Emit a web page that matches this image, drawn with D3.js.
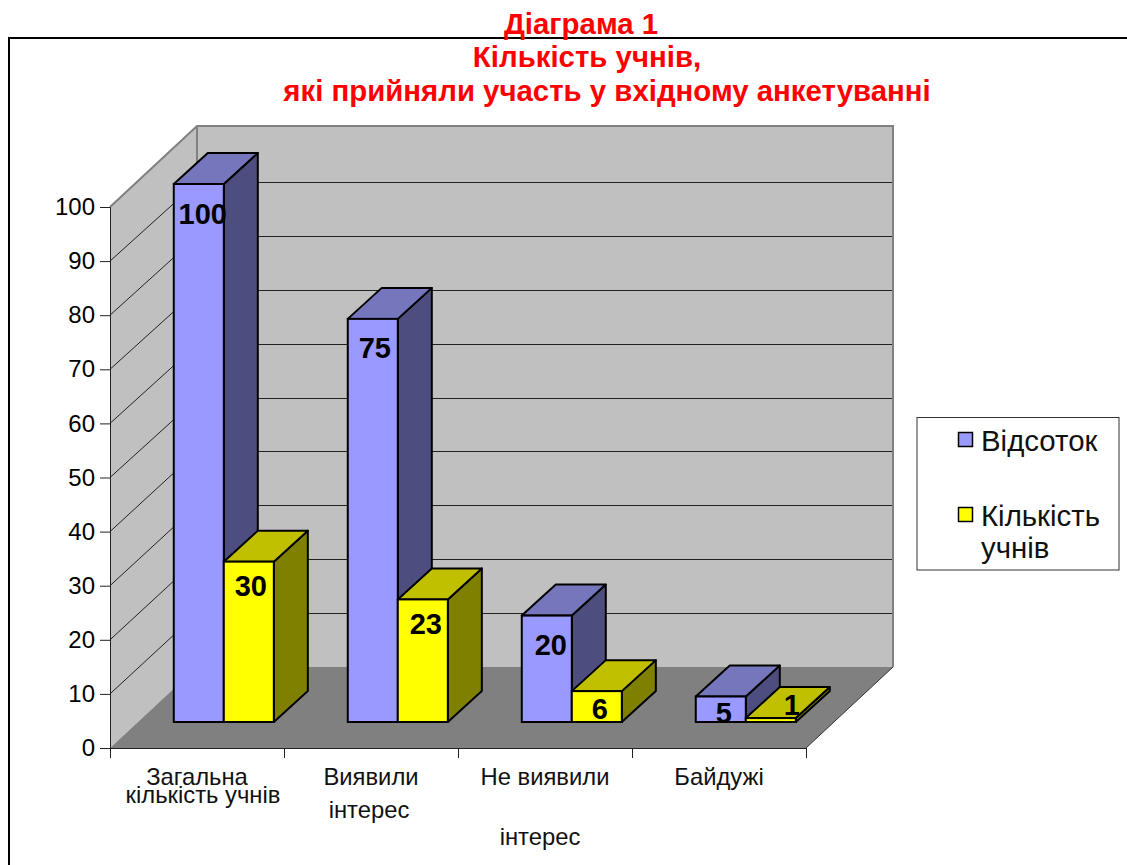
<html>
    <head>
        <meta charset="utf-8">
        <script src="https://d3js.org/d3.v7.min.js"></script>
        <style>
            body{ margin:0; background:white; }
            svg{ display:block; }
            text{ font-family:"Liberation Sans", Arial, sans-serif; }
        </style>
    </head>
    <body>
        <svg id="svg" width="1127" height="865"></svg>
        <script>
            var categories = ["Загальна кількість учнів", "Виявили інтерес", "Не виявили інтерес", "Байдужі"];
            var percent_values = [100, 75, 20, 5];
            var pupil_values = [30, 23, 6, 1];
            var y_ticks = [0, 10, 20, 30, 40, 50, 60, 70, 80, 90, 100];
            var series_names = ["Відсоток", "Кількість учнів"];
            var title_lines = ["Діаграма 1", "Кількість учнів,", "які прийняли участь у вхідному анкетуванні"];

            var svg = d3.select("svg");

            // the 3d box: front axes + how far the back wall is pushed
            var plot = {left:110, right:806, top:207, bottom:748};
            var depth = {x:87, y:-81};
            var bar_depth = {x:34, y:-31};

            var x = d3.scaleBand().domain(categories).range([plot.left, plot.right]).paddingInner(0.425).paddingOuter(0.2125);
            var x_edges = d3.scaleLinear().domain([0, categories.length]).range([plot.left, plot.right]);
            var y = d3.scaleLinear().domain([0, 100]).range([plot.bottom, plot.top]);
            // the back wall and the bar plane come out a little shorter than the front axis
            var y_wall = d3.scaleLinear().domain([0, 100]).range([667, 128]);
            var y_bar = d3.scaleLinear().domain([0, 100]).range([723.5, 184]);
            var bar_base = 722;
            var bar_shift = 26.8;
            var bar_w = x.bandwidth() / 2;

            function poly(points, fill, stroke, sw){
                return svg.append("polygon")
                    .attr("points", points.map(function(p){return p.join(",")}).join(" "))
                    .attr("fill", fill)
                    .attr("stroke", stroke || "none")
                    .attr("stroke-width", sw || 0)
                    .attr("stroke-linejoin", "round");
            }

            // outer frame, only top and left show in the picture
            svg.append("path").attr("d", "M1127,38H9V865").attr("fill", "none").attr("stroke", "black").attr("stroke-width", 2);

            // title
            var title_x = [581, 587, 607];
            var title_y = [34, 67, 101];
            title_lines.forEach(function(t, i){
                svg.append("text").attr("x", title_x[i]).attr("y", title_y[i])
                    .attr("text-anchor", "middle").attr("font-size", 29.4).attr("font-weight", "bold")
                    .attr("fill", "#ff0000").text(t);
            });

            // walls and floor
            var y0 = y(0), y100 = y(100);
            poly([[plot.left, y100], [plot.left + depth.x, y100 + depth.y], [plot.left + depth.x, y0 + depth.y], [plot.left, y0]], "#c0c0c0");
            poly([[plot.left + depth.x, y100 + depth.y], [plot.right + depth.x, y100 + depth.y], [plot.right + depth.x, y0 + depth.y], [plot.left + depth.x, y0 + depth.y]], "#c0c0c0");
            poly([[plot.left, y0], [plot.left + depth.x, y0 + depth.y], [plot.right + depth.x, y0 + depth.y], [plot.right, y0]], "#808080");

            // grid lines, side wall then back wall
            y_ticks.slice(1, -1).forEach(function(t){
                var wall = Math.round(y_wall(t)) + 0.5;
                svg.append("path")
                    .attr("d", "M" + plot.left + "," + y(t) + "L" + (plot.left + depth.x) + "," + wall + "H" + (plot.right + depth.x))
                    .attr("fill", "none").attr("stroke", "#222").attr("stroke-width", 1);
            });
            // wall edges
            svg.append("path")
                .attr("d", "M" + plot.left + "," + y100 + "L" + (plot.left + depth.x) + "," + (y100 + depth.y) + "H" + (plot.right + depth.x) + "V" + (y0 + depth.y))
                .attr("fill", "none").attr("stroke", "#808080").attr("stroke-width", 2);
            svg.append("line")
                .attr("x1", plot.left + depth.x).attr("y1", y100 + depth.y)
                .attr("x2", plot.left + depth.x).attr("y2", y_wall(90))
                .attr("stroke", "#808080").attr("stroke-width", 2);
            svg.append("line")
                .attr("x1", plot.right).attr("y1", y0)
                .attr("x2", plot.right + depth.x).attr("y2", y0 + depth.y)
                .attr("stroke", "#333").attr("stroke-width", 1);

            // axes
            var y_axis = d3.axisLeft(y).tickValues(y_ticks).tickSize(10).tickPadding(5);
            var y_g = svg.append("g").attr("transform", "translate(" + plot.left + ",0)").call(y_axis);
            y_g.selectAll("text").attr("font-size", 24).attr("fill", "#000").attr("font-family", null);
            y_g.selectAll("line").attr("stroke", "#222");
            y_g.select(".domain").attr("stroke", "#222");

            var x_axis = d3.axisBottom(x_edges).ticks(categories.length).tickSize(10).tickSizeOuter(10).tickFormat("");
            var x_g = svg.append("g").attr("transform", "translate(0," + plot.bottom + ")").call(x_axis);
            x_g.selectAll("line").attr("stroke", "#222");
            x_g.select(".domain").attr("stroke", "#222");

            // category labels, the wrapping in the picture is uneven so it is typed line by line
            var label_lines = [
                [["Загальна", 0, 785], ["кількість учнів", 6, 803]],
                [["Виявили", 0, 785], ["інтерес", -2, 818]],
                [["Не виявили", 0, 785], ["інтерес", -5, 845]],
                [["Байдужі", 0, 785]]
            ];
            categories.forEach(function(c, i){
                label_lines[i].forEach(function(l){
                    svg.append("text")
                        .attr("x", x(c) + x.bandwidth() / 2 + l[1])
                        .attr("y", l[2])
                        .attr("text-anchor", "middle").attr("font-size", 23.8).attr("fill", "#111")
                        .text(l[0]);
                });
            });

            // bars
            var bar_colors = [
                {front:"#9999ff", top:"#7676bd", side:"#4d4d80"},
                {front:"#ffff00", top:"#c0c000", side:"#808000"}
            ];
            function draw_bar(x0, v, col){
                var x1 = x0 + bar_w;
                var y_top = y_bar(v);
                var dx = bar_depth.x, dy = bar_depth.y;
                poly([[x1, y_top], [x1 + dx, y_top + dy], [x1 + dx, bar_base + dy], [x1, bar_base]], col.side, "black", 2);
                poly([[x0, y_top], [x0 + dx, y_top + dy], [x1 + dx, y_top + dy], [x1, y_top]], col.top, "black", 2);
                svg.append("rect").attr("x", x0).attr("y", y_top).attr("width", bar_w).attr("height", bar_base - y_top)
                    .attr("fill", col.front).attr("stroke", "black").attr("stroke-width", 2);
            }
            categories.forEach(function(c, i){
                var x0 = x(c) + bar_shift;
                draw_bar(x0, percent_values[i], bar_colors[0]);
                draw_bar(x0 + bar_w, pupil_values[i], bar_colors[1]);
            });

            // data labels, nudged by hand from the top of each bar
            var percent_nudge = [[29, 40], [27, 39], [29, 39], [28, 26]];
            var pupil_nudge = [[27, 34], [28, 35], [28, 28], [46, -3]];
            function bar_label(x0, v, nudge){
                svg.append("text")
                    .attr("x", x0 + nudge[0]).attr("y", y_bar(v) + nudge[1])
                    .attr("text-anchor", "middle").attr("font-size", 29).attr("font-weight", "bold")
                    .attr("fill", "black").text(v);
            }
            categories.forEach(function(c, i){
                var x0 = x(c) + bar_shift;
                bar_label(x0, percent_values[i], percent_nudge[i]);
                bar_label(x0 + bar_w, pupil_values[i], pupil_nudge[i]);
            });

            // legend
            svg.append("rect").attr("x", 917).attr("y", 417.5).attr("width", 202).attr("height", 152.5)
                .attr("fill", "white").attr("stroke", "#333").attr("stroke-width", 1);
            var legend_y = [440, 515];
            series_names.forEach(function(s, i){
                svg.append("rect").attr("x", 958.5).attr("y", legend_y[i] - 7.5).attr("width", 14).attr("height", 14)
                    .attr("fill", bar_colors[i].front).attr("stroke", "black").attr("stroke-width", 1.5);
            });
            svg.append("text").attr("x", 981).attr("y", 451).attr("font-size", 29.4).attr("fill", "#111").text(series_names[0]);
            svg.append("text").attr("x", 981).attr("y", 526).attr("font-size", 29.4).attr("fill", "#111").text("Кількість");
            svg.append("text").attr("x", 981).attr("y", 558).attr("font-size", 29.4).attr("fill", "#111").text("учнів");
        </script>
    </body>
</html>
